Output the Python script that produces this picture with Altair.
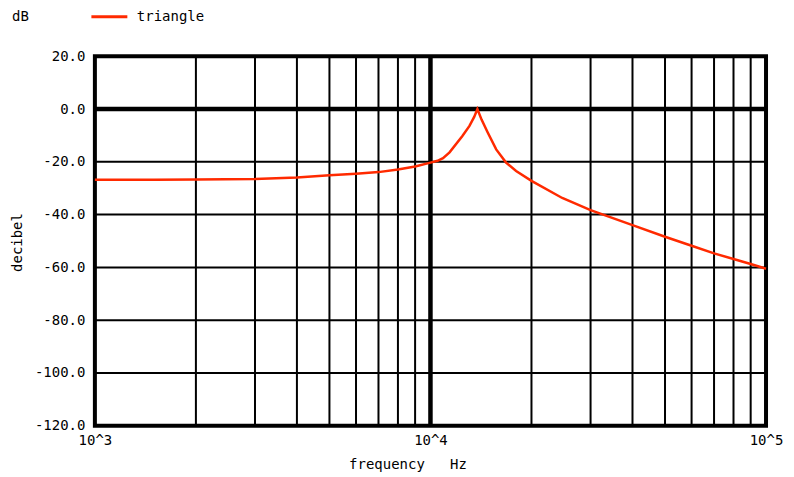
import altair as alt
import pandas as pd

# Curve data
freq = [1000, 1500, 2000, 3000, 4000, 5000, 6000, 7000, 8000, 9000, 10000,
        10500, 10900, 11400, 12450, 13070, 13500, 13800, 14200, 14800, 15700, 16800, 18000,
        20000, 24700, 30000, 40000, 50000, 60000, 70000, 80000, 90000, 100000]
db = [-26.8, -26.8, -26.7, -26.5, -25.9, -25.1, -24.5, -23.9, -22.9, -21.8, -20.3,
      -19.6, -18.6, -16.4, -10.2, -6.4, -3.0, 0.0, -4.0, -8.8, -15.3, -20.3, -23.5,
      -27.2, -33.7, -38.3, -44.0, -48.4, -51.8, -54.7, -56.8, -58.7, -60.5]
series = ["triangle"] * len(freq)

vgrid = [2000, 3000, 4000, 5000, 6000, 7000, 8000, 9000, 10000,
         20000, 30000, 40000, 50000, 60000, 70000, 80000, 90000]
vgrid_w = [2 if v != 10000 else 4.5 for v in vgrid]
hgrid = [-100, -80, -60, -40, -20, 0]
hgrid_w = [2 if v != 0 else 4.5 for v in hgrid]

unit_label = ["dB"]

FONT = "DejaVu Sans Mono"

curve = pd.DataFrame({"f": freq, "db": db, "s": series})
vg = pd.DataFrame({"f": vgrid, "w": vgrid_w})
hg = pd.DataFrame({"db": hgrid, "w": hgrid_w})
ul = pd.DataFrame({"t": unit_label})

xscale = alt.Scale(type="log", domain=[1000, 100000], nice=False)
yscale = alt.Scale(domain=[-120, 20], nice=False, zero=False)

xaxis = alt.Axis(values=[1000, 10000, 100000],
                 labelExpr="'10^' + round(log(datum.value)/log(10))",
                 grid=False, ticks=False, domain=False, labelFlush=False,
                 labelFont=FONT, labelFontSize=14, labelColor="black",
                 labelPadding=8, title="frequency\u00a0\u00a0\u00a0Hz", titleFont=FONT,
                 titleFontSize=14, titleFontWeight="normal", titleColor="black",
                 titleX=313, titleY=39, titleBaseline="middle", titleAlign="center")
yaxis = alt.Axis(values=[-120, -100, -80, -60, -40, -20, 0, 20],
                 labelExpr="replace(format(datum.value, '.1f'), '\u2212', '-')",
                 grid=False, ticks=False, domain=False,
                 labelFont=FONT, labelFontSize=14, labelColor="black",
                 labelPadding=10, title="decibel", titleFont=FONT,
                 titleFontSize=14, titleFontWeight="normal", titleColor="black",
                 titleX=-77, titleY=186, titleAngle=-90,
                 titleBaseline="middle", titleAlign="center")

vrules = alt.Chart(vg).mark_rule(color="black").encode(
    x=alt.X("f:Q", scale=xscale, axis=xaxis),
    strokeWidth=alt.StrokeWidth("w:Q", scale=None),
)
hrules = alt.Chart(hg).mark_rule(color="black").encode(
    y=alt.Y("db:Q", scale=yscale, axis=yaxis),
    strokeWidth=alt.StrokeWidth("w:Q", scale=None),
)
line = alt.Chart(curve).mark_line(strokeWidth=2.5).encode(
    x=alt.X("f:Q", scale=xscale),
    y=alt.Y("db:Q", scale=yscale),
    color=alt.Color("s:N", scale=alt.Scale(domain=["triangle"], range=["#ff2a00"]),
                    legend=alt.Legend(orient="none", legendX=-5, legendY=-59,
                                      title=None, symbolType="stroke",
                                      symbolStrokeWidth=3, symbolSize=1296,
                                      labelFont=FONT, labelFontSize=14,
                                      labelColor="black", labelOffset=8)),
)
unit = alt.Chart(ul).mark_text(font=FONT, fontSize=14, color="black",
                               align="left", baseline="middle").encode(
    x=alt.value(-83), y=alt.value(-39), text="t:N")

chart = alt.layer(vrules, hrules, line, unit).properties(
    width=672, height=370,
    autosize=alt.AutoSizeParams(type="none"),
    padding={"left": 87, "top": 48, "right": 20, "bottom": 55},
    background="white",
).configure_view(stroke="black", strokeWidth=4)

chart.save("out.html", embed_options={"renderer": "svg", "actions": False})
